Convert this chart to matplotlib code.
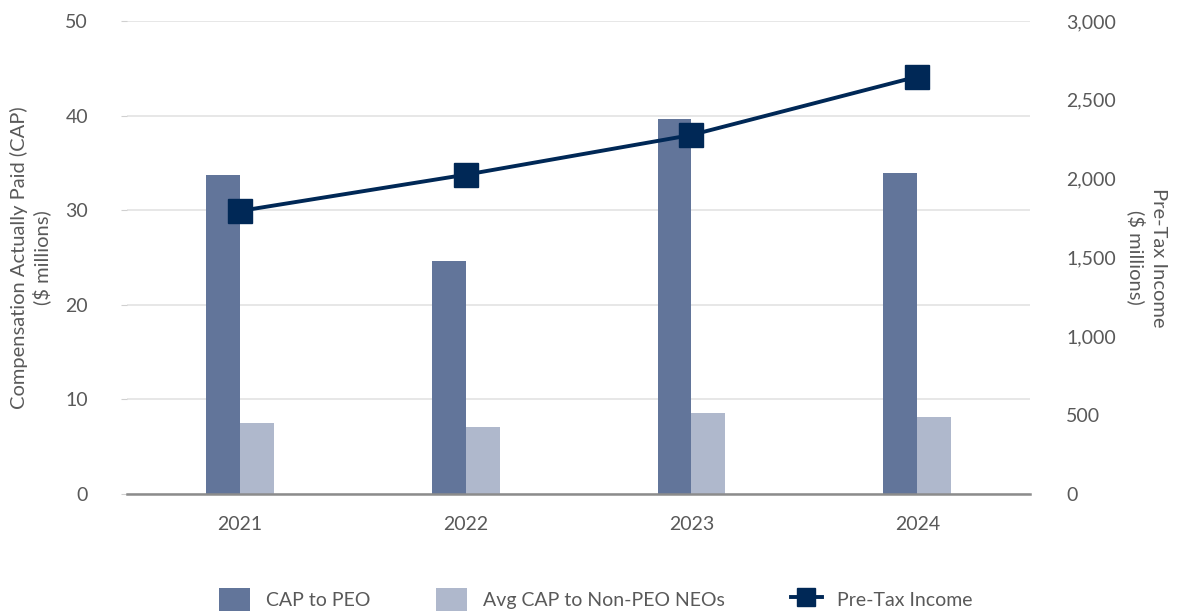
import matplotlib.pyplot as plt
import matplotlib.font_manager as fm
import numpy as np

years = ['2021', '2022', '2023', '2024']
cap_peo = [33.7, 24.6, 39.6, 33.9]
cap_neo = [7.5, 7.1, 8.6, 8.1]
pretax_income = [1795, 2025, 2277, 2647]

DARK_BAR = '#62759a'
LIGHT_BAR = '#afb8cc'
NAVY = '#002856'
TEXT = '#595959'

names = {f.name for f in fm.fontManager.ttflist}
family = 'Lato' if 'Lato' in names else 'DejaVu Sans'
plt.rcParams['font.family'] = family
plt.rcParams['font.weight'] = 'normal'
plt.rcParams['text.color'] = TEXT

fig = plt.figure(figsize=(11.8, 6.15), dpi=100)
ax = fig.add_axes([0.1076, 0.1967, 0.7654, 0.7692])
ax2 = ax.twinx()

x = np.arange(len(years)) + 0.5
w = 0.15
ax.bar(x - w / 2, cap_peo, width=w, color=DARK_BAR, label='CAP to PEO', zorder=2)
ax.bar(x + w / 2, cap_neo, width=w, color=LIGHT_BAR, label='Avg CAP to Non-PEO NEOs', zorder=2)
ax2.plot(x, pretax_income, color=NAVY, lw=2.8, marker='s', markersize=17,
         label='Pre-Tax Income', zorder=3)

ax.set_xlim(0, len(years))
ax.set_ylim(0, 50)
ax2.set_ylim(0, 3000)
ax.set_yticks(range(0, 51, 10))
ax2.set_yticks(range(0, 3001, 500))
ax2.set_yticklabels([f'{v:,}' for v in range(0, 3001, 500)])
ax.set_xticks(x)
ax.set_xticklabels(years)

ax.grid(axis='y', color='#e3e3e3', lw=1.2, zorder=0)
ax.set_axisbelow(True)
for a in (ax, ax2):
    for s in a.spines.values():
        s.set_visible(False)
ax.spines['bottom'].set_visible(True)
ax.spines['bottom'].set_color('#8c8c8c')
ax.spines['bottom'].set_linewidth(1.8)

ax.tick_params(axis='y', length=4, color='#d0d0d0', pad=24, labelsize=14, labelcolor=TEXT)
ax.tick_params(axis='x', length=0, pad=16, labelsize=14, labelcolor=TEXT)
ax2.tick_params(axis='y', length=0, pad=26, labelsize=14, labelcolor=TEXT)

ax.set_ylabel('Compensation Actually Paid (CAP)\n($ millions)', fontsize=14.5,
              color=TEXT, va='center', linespacing=1.25)
ax.yaxis.set_label_coords(-0.107, 0.5)
ax2.set_ylabel('Pre-Tax Income\n($ millions)', fontsize=14.5, color=TEXT,
               rotation=270, va='center', linespacing=1.25)
ax2.yaxis.set_label_coords(1.129, 0.5)

h1, l1 = ax.get_legend_handles_labels()
h2, l2 = ax2.get_legend_handles_labels()
fig.legend(h1 + h2, l1 + l2, loc='center', bbox_to_anchor=(0.505, 0.025), ncol=3,
           frameon=False, fontsize=14, handlelength=1.6, handleheight=1.4,
           columnspacing=3.4, handletextpad=0.8, markerscale=0.8)

fig.savefig('out.png', dpi=100)
